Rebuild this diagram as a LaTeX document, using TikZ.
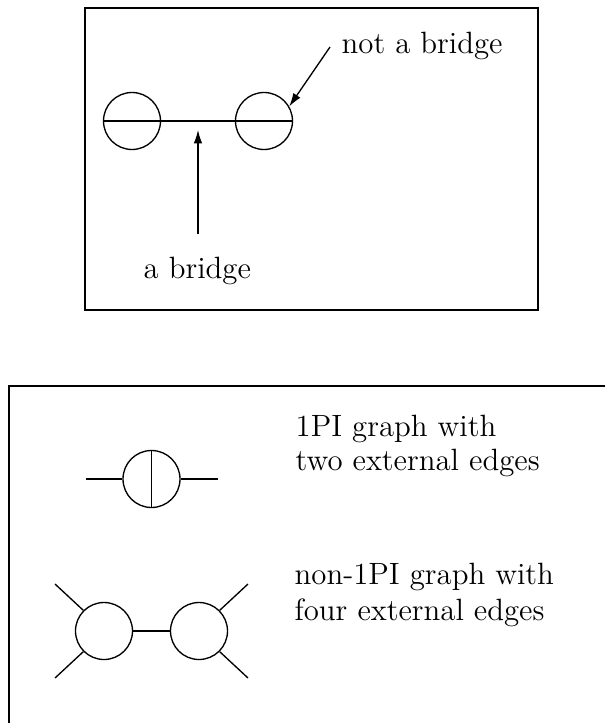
\documentclass[tikz,border=0pt]{standalone}
\usetikzlibrary{arrows.meta}
\begin{document}
\begin{tikzpicture}[x=0.375pt,y=-0.375pt,line width=0.5pt,
  frame/.style={draw,line width=0.55pt},
  vtx/.style={draw,circle,minimum size=57*0.375pt,inner sep=0pt},
  lbl/.style={align=left,anchor=base west,inner sep=0pt,font=\fontsize{11.55}{13.2}\selectfont},
  ptr/.style={-{Latex[length=5pt,width=3.2pt]}}]
\useasboundingbox (0,0) rectangle (605,723);
% top frame
\draw[frame] (85,8) rectangle (538,310);
\node[vtx] (c1) at (132,121) {};
\node[vtx] (c2) at (264,121) {};
\draw (c1.west) -- (c2.east);
\coordinate (bmid) at (198,130);
\node[lbl] (nb) at (341,54) {not a bridge};
\node[lbl] (ab) at (143,279) {a bridge};
\coordinate (nbs) at (330,47);
\coordinate (abs) at (198,234);
\draw[ptr] (nbs) -- (c2.30);
\draw[ptr] (abs) -- (bmid);
% bottom frame (clipped at right and bottom)
\draw[frame] (605,386) -- (9,386) -- (9,723);
% 1PI graph
\node[vtx] (g1) at (151.5,479) {};
\draw (g1.north) -- (g1.south);
\coordinate (g1l) at (86,479);
\coordinate (g1r) at (217.5,479);
\draw (g1l) -- (g1.west);
\draw (g1.east) -- (g1r);
\node[lbl,font=\fontsize{11.55}{12.9}\selectfont] (t1) at (295,470.7) {1PI graph with\\two external edges};
% non-1PI graph
\node[vtx] (ga) at (104,631) {};
\node[vtx] (gb) at (199,631) {};
\draw (ga.east) -- (gb.west);
\coordinate (e1) at (55,584);
\coordinate (e2) at (55,678);
\coordinate (e3) at (248,584);
\coordinate (e4) at (248,678);
\draw (e1) -- (ga.135);
\draw (e2) -- (ga.-135);
\draw (e3) -- (gb.45);
\draw (e4) -- (gb.-45);
\node[lbl,font=\fontsize{11.55}{13.5}\selectfont] (t2) at (294,620.7) {non-1PI graph with\\four external edges};
\end{tikzpicture}
\end{document}
